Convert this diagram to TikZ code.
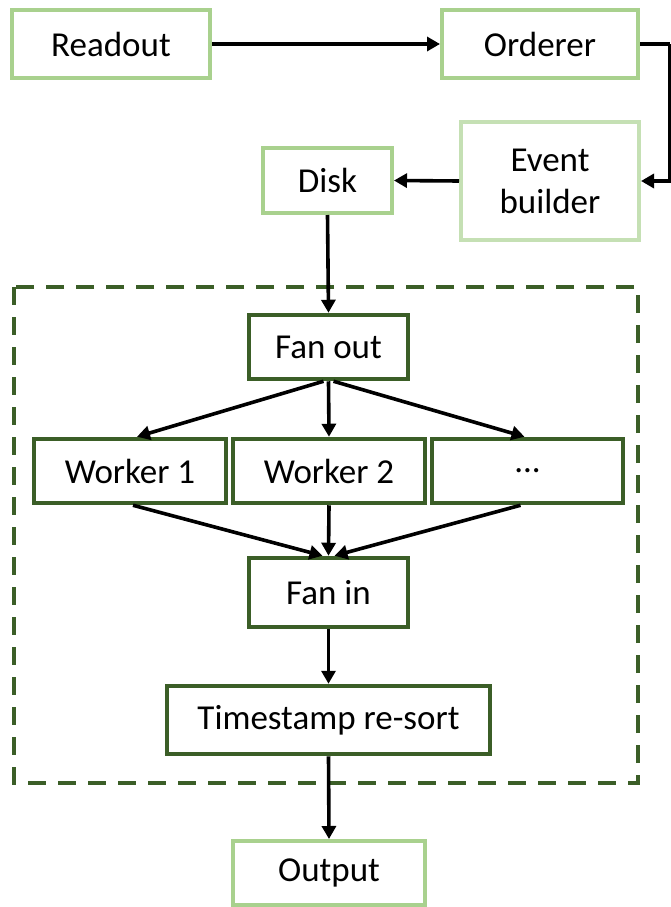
\documentclass[tikz,border=0pt]{standalone}
\usepackage{fontspec}
\setmainfont{Carlito}
\usetikzlibrary{arrows.meta,calc}
\definecolor{lightg}{HTML}{A9D18E}
\definecolor{paleg}{HTML}{C5E0B4}
\definecolor{darkg}{HTML}{3B5E27}
\tikzset{
  outerbox/.style={draw=lightg,line width=4pt,fill=white,inner sep=0pt,align=center},
  innerbox/.style={draw=darkg,line width=4.5pt,fill=white,inner sep=0pt,align=center},
  conn/.style={line width=3.6pt,-{Triangle[length=13pt,width=14pt]}},
  plain/.style={line width=3.6pt},
}
\begin{document}
\begin{tikzpicture}[x=1pt,y=-1pt,font=\fontsize{35}{42}\selectfont]
\useasboundingbox (0,0) rectangle (671,907);
% dashed group
\draw[darkg,line width=4.5pt,dash pattern=on 18pt off 12pt] (14,287) rectangle (638,783);
\node[outerbox,minimum width=198pt,minimum height=68pt] (readout) at (111,44) {Readout};
\node[outerbox,minimum width=196pt,minimum height=68pt] (orderer) at (540,44) {Orderer};
\node[outerbox,draw=paleg,minimum width=178pt,minimum height=118pt] (eb) at (550,181) {Event\\builder};
\node[outerbox,minimum width=129pt,minimum height=65pt] (disk) at (327.5,180.5) {Disk};
\node[innerbox,minimum width=159pt,minimum height=64pt] (fo) at (328.5,347) {Fan out};
\node[innerbox,minimum width=192pt,minimum height=64pt] (w1) at (130,471) {Worker 1};
\node[innerbox,minimum width=192pt,minimum height=64pt] (w2) at (329,471) {Worker 2};
\node[innerbox,minimum width=191pt,minimum height=64pt] (w3) at (527.5,471) {...};
\node[innerbox,minimum width=159pt,minimum height=69pt] (fi) at (328.5,592.5) {Fan in};
\node[innerbox,minimum width=323pt,minimum height=68pt] (ts) at (328.5,720) {Timestamp re-sort};
\node[outerbox,minimum width=192pt,minimum height=64pt] (out) at (329,873) {Output};
\coordinate (c1) at (670,44);
\coordinate (c2) at (670,181);
% connectors
\draw[conn] (readout.east) -- (orderer.west);
\draw[plain] (orderer.east) -- (c1);
\draw[conn] (c1) -- (c2) -- (eb.east);
\draw[conn] (eb.west) -- (disk.east);
\draw[conn] (disk.south) -- (fo.north);
\draw[conn] ($(fo.south)+(-5,0)$) -- ($(w1.north)+(7,0)$);
\draw[conn] (fo.south) -- (w2.north);
\draw[conn] ($(fo.south)+(5,0)$) -- ($(w3.north)+(-3,0)$);
\draw[conn] ($(w1.south)+(3,0)$) -- ($(fi.north)+(-6,0)$);
\draw[conn] (w2.south) -- (fi.north);
\draw[conn] ($(w3.south)+(-7,0)$) -- ($(fi.north)+(6,0)$);
\draw[conn] (fi.south) -- (ts.north);
\draw[conn] (ts.south) -- (out.north);
\end{tikzpicture}
\end{document}
